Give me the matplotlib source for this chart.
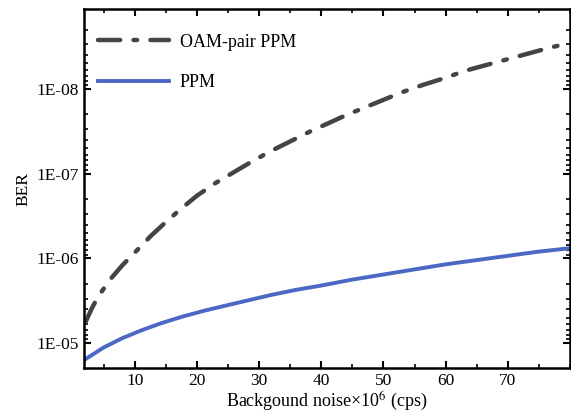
import matplotlib.pyplot as plt
import numpy as np
from matplotlib.ticker import FixedLocator, FixedFormatter, LogLocator, NullFormatter, MultipleLocator

# Dane (log10 BER)
oam_x = [2, 3, 4, 6, 8, 10, 12.5, 15, 17.5, 20, 23, 26, 29, 32, 35, 38, 41, 44, 47, 50, 53, 56.5, 60, 63, 66.5, 71, 74, 77, 80]
oam_log = [-5.24, -5.40, -5.54, -5.75, -5.92, -6.07, -6.26, -6.43, -6.59, -6.74, -6.89, -7.02, -7.15, -7.27, -7.38,
           -7.49, -7.59, -7.69, -7.78, -7.87, -7.96, -8.05, -8.13, -8.21, -8.28, -8.37, -8.43, -8.49, -8.54]
ppm_x = [2, 5, 8, 11, 14, 17.5, 21, 25, 28.5, 32, 36, 40, 45, 50, 55, 60, 65, 70, 75, 80]
ppm_log = [-4.81, -4.95, -5.06, -5.15, -5.23, -5.31, -5.38, -5.45, -5.51, -5.57, -5.63, -5.68, -5.75, -5.81, -5.87,
           -5.93, -5.98, -6.03, -6.08, -6.12]

oam = [10 ** v for v in oam_log]
ppm = [10 ** v for v in ppm_log]

xticks = [10, 20, 30, 40, 50, 60, 70]
yticks = [1e-5, 1e-6, 1e-7, 1e-8]
ylabels = ["1E-05", "1E-06", "1E-07", "1E-08"]

plt.rcParams['font.family'] = ['Liberation Serif', 'DejaVu Serif']
plt.rcParams['mathtext.fontset'] = 'stix'

fig = plt.figure(figsize=(5.71, 4.15), dpi=100)
ax = fig.add_axes([0.147, 0.113, 0.851, 0.865])

ax.plot(oam_x, oam, color='#444444', lw=3.2, ls=(0, (5, 3, 0.8, 3)), dash_capstyle='round', label='OAM-pair PPM')
ax.plot(ppm_x, ppm, color='#4a68c4', lw=2.8, label='PPM')

ax.set_yscale('log')
ax.set_ylim(10 ** -4.706, 10 ** -8.94)
ax.set_xlim(1.8, 80)

ax.yaxis.set_major_locator(FixedLocator(yticks))
ax.yaxis.set_major_formatter(FixedFormatter(ylabels))
ax.yaxis.set_minor_locator(LogLocator(base=10, subs=np.arange(2, 10)))
ax.yaxis.set_minor_formatter(NullFormatter())
ax.xaxis.set_major_locator(FixedLocator(xticks))
ax.xaxis.set_minor_locator(MultipleLocator(5))

ax.tick_params(which='both', direction='in', top=True, right=True, labelsize=12.5)
ax.tick_params(which='major', length=5, width=1.5)
ax.tick_params(which='minor', length=3, width=1.2)
for s in ax.spines.values():
    s.set_linewidth(1.8)

ax.set_xlabel("Backgound noise×10$^6$ (cps)", fontsize=13, labelpad=1)
ax.set_ylabel("BER", fontsize=12.5, labelpad=4)

ax.legend(loc='upper left', bbox_to_anchor=(0.0, 0.972), frameon=False, fontsize=13, handlelength=3.9,
          labelspacing=1.3, borderaxespad=0.4, handletextpad=0.6)

fig.savefig("out.png", dpi=100)
